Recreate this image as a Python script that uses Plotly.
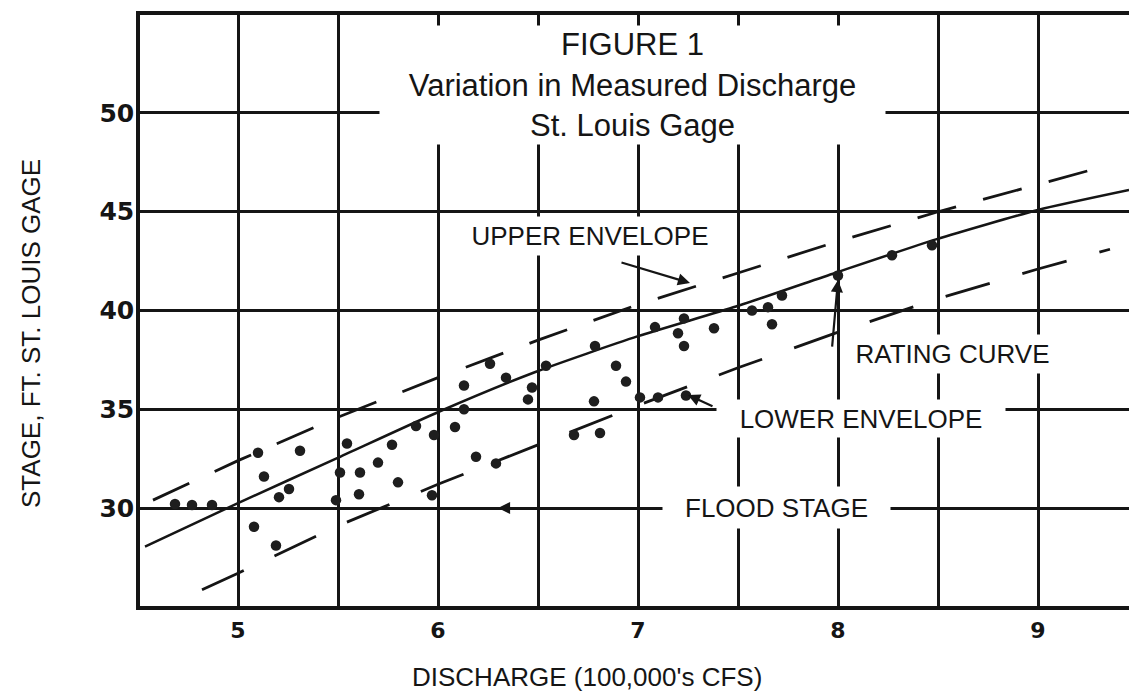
import plotly.graph_objects as go

# ---- data ----
obs_discharge = [4.685, 4.77, 4.87, 5.10, 5.31, 5.13, 5.255, 5.205, 5.08, 5.19,
                 5.545, 5.51, 5.49, 5.61, 5.70, 5.77, 5.80, 5.605, 5.89, 5.98,
                 5.97, 6.13, 6.13, 6.085, 6.19, 6.26, 6.34, 6.29, 6.47, 6.45,
                 6.54, 6.785, 6.89, 6.94, 6.78, 6.68, 6.81, 7.01, 7.10, 7.24,
                 7.085, 7.23, 7.20, 7.23, 7.38, 7.57, 7.65, 7.72, 7.67, 8.0,
                 8.27, 8.47]
obs_stage = [30.2, 30.15, 30.15, 32.8, 32.9, 31.6, 30.96, 30.55, 29.05, 28.1,
             33.27, 31.8, 30.4, 31.8, 32.3, 33.2, 31.3, 30.7, 34.15, 33.7,
             30.65, 36.2, 35.0, 34.1, 32.6, 37.3, 36.6, 32.26, 36.1, 35.5,
             37.2, 38.2, 37.2, 36.4, 35.4, 33.7, 33.8, 35.6, 35.6, 35.7,
             39.16, 39.6, 38.85, 38.2, 39.1, 40.0, 40.17, 40.76, 39.3, 41.77,
             42.8, 43.3]

rating_discharge = [4.535, 5.0, 5.49, 6.01, 6.49, 7.0, 7.49, 7.985, 8.49, 9.0, 9.455]
rating_stage = [28.05, 30.25, 32.5, 34.9, 36.9, 38.7, 40.2, 41.9, 43.6, 45.09, 46.1]

upper_discharge = [4.575, 5.0, 5.5, 6.0, 6.5, 7.0, 7.5, 8.0, 8.5, 9.0, 9.26]
upper_stage = [30.4, 32.4, 34.6, 36.6, 38.5, 40.3, 41.9, 43.5, 45.0, 46.4, 47.1]

lower_discharge = [4.82, 5.0, 5.5, 6.0, 6.5, 7.0, 7.5, 8.0, 8.5, 9.0, 9.36]
lower_stage = [25.86, 26.7, 29.1, 31.2, 33.2, 35.2, 37.1, 38.9, 40.6, 42.1, 43.1]

x_ticks = [5, 5.5, 6, 6.5, 7, 7.5, 8, 8.5, 9]
x_tick_labels = ["5", "", "6", "", "7", "", "8", "", "9"]
y_ticks = [30, 35, 40, 45, 50]
y_tick_labels = ["30", "35", "40", "45", "50"]

title_lines = ["FIGURE 1", "Variation in Measured Discharge", "St. Louis Gage"]
x_title = "DISCHARGE (100,000's CFS)"
y_title = "STAGE, FT. ST. LOUIS GAGE"

INK = "#151515"
FONT = "Liberation Sans, Arial, Helvetica, sans-serif"

fig = go.Figure()
fig.add_trace(go.Scatter(x=rating_discharge, y=rating_stage, mode="lines",
                         line=dict(color=INK, width=2.5, shape="spline", smoothing=0.6),
                         hoverinfo="skip", showlegend=False))
fig.add_trace(go.Scatter(x=upper_discharge, y=upper_stage, mode="lines",
                         line=dict(color=INK, width=2.8, dash="40px,28px"),
                         hoverinfo="skip", showlegend=False))
fig.add_trace(go.Scatter(x=lower_discharge, y=lower_stage, mode="lines",
                         line=dict(color=INK, width=2.8, dash="46px,34px"),
                         hoverinfo="skip", showlegend=False))
fig.add_trace(go.Scatter(x=obs_discharge, y=obs_stage, mode="markers",
                         marker=dict(color="#1e1e1e", size=10.5, line=dict(width=0)),
                         showlegend=False))

label_font = dict(family=FONT, size=26, color=INK)

# title block with white background
fig.add_annotation(x=6.9725, y=51.40, xref="x", yref="y",
                   text="<br>".join(title_lines), showarrow=False,
                   font=dict(family=FONT, size=31, color=INK),
                   bgcolor="white", width=505, height=118, borderpad=0,
                   align="center", valign="middle",
                   xanchor="center", yanchor="middle")

# labels with white boxes
for lx, ly, txt, w, h in [(6.76, 43.77, "UPPER ENVELOPE", 270, 38),
                          (8.57, 37.80, "RATING CURVE", 215, 38),
                          (8.115, 34.53, "LOWER ENVELOPE", 288, 37),
                          (7.69, 30.03, "FLOOD STAGE", 227, 41)]:
    fig.add_annotation(x=lx, y=ly, text=txt, showarrow=False, font=label_font,
                       bgcolor="white", width=w, height=h, borderpad=0,
                       xanchor="center", yanchor="middle")

# arrows
arrow = dict(showarrow=True, arrowhead=2, arrowsize=1.1, arrowwidth=2.2, arrowcolor=INK, text="")
fig.add_annotation(x=6.30, y=30.0, ax=160, ay=0, **arrow)
fig.add_annotation(x=7.26, y=41.39, ax=-70, ay=-21, **arrow)
fig.add_annotation(x=8.0, y=41.54, ax=-6, ay=68, **arrow)
fig.add_annotation(x=7.25, y=35.72, ax=26, ay=12, **arrow)

# axis titles
fig.add_annotation(x=(587 - 140) / 989, y=-(677 - 606) / 591, xref="paper", yref="paper",
                   text=x_title, showarrow=False, xanchor="center", yanchor="middle",
                   font=dict(family=FONT, size=26, color=INK))
fig.add_annotation(x=-(140 - 31) / 989, y=(606 - 334) / 591, xref="paper", yref="paper",
                   text=y_title, showarrow=False, textangle=-90,
                   xanchor="center", yanchor="middle",
                   font=dict(family=FONT, size=26, color=INK))

fig.update_xaxes(range=[4.51, 9.455], tickvals=x_ticks, ticktext=x_tick_labels,
                 showgrid=True, gridcolor=INK, gridwidth=2.5, zeroline=False,
                 showline=True, linecolor=INK, linewidth=3.5, mirror=True,
                 ticks="", ticklabelstandoff=2, automargin=False,
                 tickfont=dict(family="DejaVu Sans", size=22, color=INK, weight="bold"))
fig.update_yaxes(range=[25.04, 54.96], tickvals=y_ticks, ticktext=y_tick_labels,
                 showgrid=True, gridcolor=INK, gridwidth=2.5, zeroline=False,
                 showline=True, linecolor=INK, linewidth=3.5, mirror=False,
                 ticks="", ticklabelstandoff=-3, automargin=False,
                 tickfont=dict(family="DejaVu Sans", size=25, color=INK, weight="bold"))

fig.update_layout(width=1129, height=691, margin=dict(l=140, r=0, t=15, b=85),
                  paper_bgcolor="white", plot_bgcolor="white")

fig.write_html("out.html", config={"displayModeBar": False},
               post_script="document.body.style.margin='0px';")
